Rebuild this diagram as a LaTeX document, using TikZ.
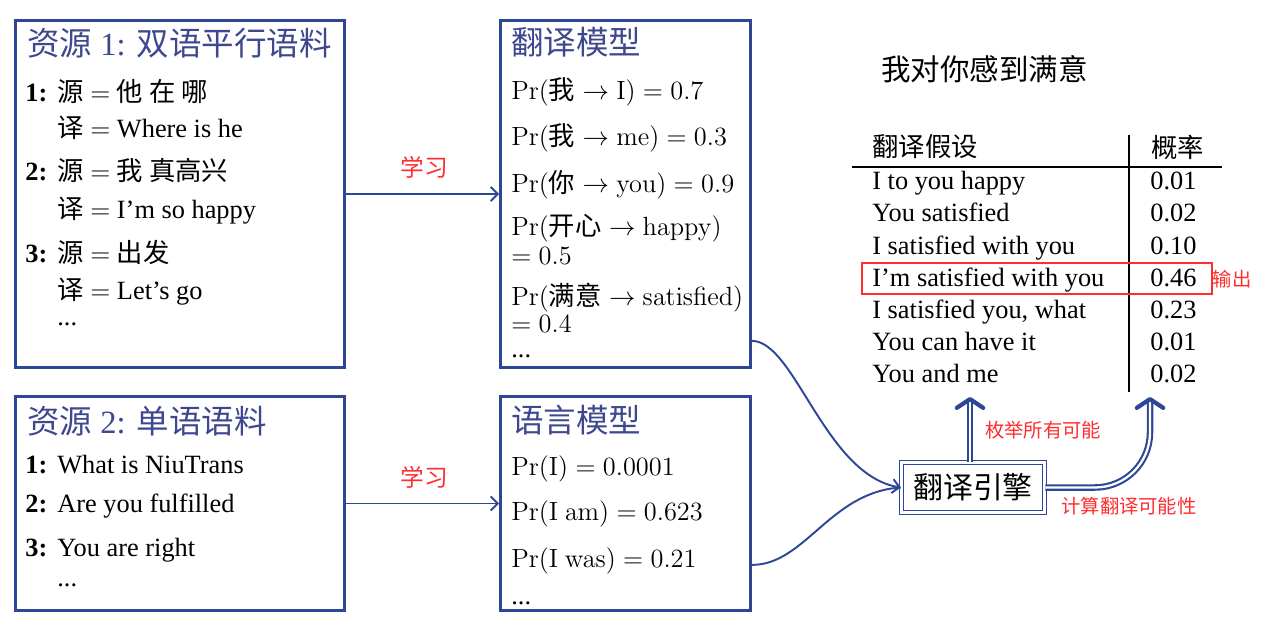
\RequirePackage{fix-cm}
\documentclass[tikz,border=0pt]{standalone}
\usepackage[no-math]{fontspec}
\setmainfont{Liberation Serif}
\newfontfamily\cjk{Noto Sans CJK SC}
\usetikzlibrary{arrows.meta,positioning}
\definecolor{boxblue}{RGB}{46,70,150}
\definecolor{headblue}{RGB}{62,72,142}
\definecolor{notered}{RGB}{255,45,45}
\newcommand{\zhtext}[1]{{\cjk #1}}
\newcommand{\idx}[1]{\makebox[0.64cm][l]{\bfseries #1}}
\tikzstyle{panel}=[draw=boxblue,line width=1.6pt,rectangle,inner sep=0pt]
\tikzstyle{head}=[anchor=base west,inner sep=0pt,text=headblue,font=\fontsize{18.5}{20}\selectfont]
\tikzstyle{entry}=[anchor=base west,inner sep=0pt,font=\fontsize{15}{17}\selectfont]
\tikzstyle{note}=[text=notered,inner sep=0pt,font=\fontsize{11}{12}\selectfont\cjk]
\tikzstyle{engine}=[draw=boxblue,line width=0.9pt,double=white,double distance=1.2pt,rectangle,
  minimum width=2.86cm,minimum height=1cm,inner sep=0pt,font=\fontsize{17}{18}\selectfont\cjk]

\begin{document}
\begin{tikzpicture}[x=0.02cm,y=-0.02cm,
flow/.style={draw=boxblue,line width=1.1pt,-{Straight Barb[length=4pt,width=8pt]}},
curveline/.style={draw=boxblue,line width=1.1pt},
dbl/.style={draw=boxblue,line width=1.2pt,double=white,double distance=1.3pt,
  -{Straight Barb[length=5pt,width=15pt,line width=2.4pt,round]}}]
\useasboundingbox (0,0) rectangle (1286,622);

\node [panel,minimum width=6.58cm,minimum height=6.94cm] (res1) at (180,194) {};
\node [panel,minimum width=5.0cm,minimum height=6.94cm] (tm) at (625.5,194) {};
\node [panel,minimum width=6.58cm,minimum height=4.28cm] (res2) at (180,503.5) {};
\node [panel,minimum width=5.0cm,minimum height=4.28cm] (lm) at (625.5,503.5) {};

\node [head] (h1) at (27,55) {\zhtext{资源} 1: \zhtext{双语平行语料}};
\node [entry] (p1a) at (25,101) {\idx{1:}\zhtext{源} $=$ \zhtext{他 在 哪}};
\node [entry] (p1b) at (57,137) {\zhtext{译} $=$ Where is he};
\node [entry] (p2a) at (25,180) {\idx{2:}\zhtext{源} $=$ \zhtext{我 真高兴}};
\node [entry] (p2b) at (57,218) {\zhtext{译} $=$ I’m so happy};
\node [entry] (p3a) at (25,262) {\idx{3:}\zhtext{源} $=$ \zhtext{出发}};
\node [entry] (p3b) at (57,299) {\zhtext{译} $=$ Let’s go};
\node [entry] (p3c) at (57,325) {...};

\node [head] (h2) at (511,54) {\zhtext{翻译模型}};
\node [entry] (t1) at (511,99) {$\mathrm{Pr}(\mbox{\cjk 我}\to\mathrm{I})=0.7$};
\node [entry] (t2) at (511,145) {$\mathrm{Pr}(\mbox{\cjk 我}\to\mathrm{me})=0.3$};
\node [entry] (t3) at (511,192) {$\mathrm{Pr}(\mbox{\cjk 你}\to\mathrm{you})=0.9$};
\node [entry] (t4) at (511,235) {$\mathrm{Pr}(\mbox{\cjk 开心}\to\mathrm{happy})$};
\node [entry] (t4b) at (511,264) {$=0.5$};
\node [entry] (t5) at (511,305) {$\mathrm{Pr}(\mbox{\cjk 满意}\to\mathrm{satisfied})$};
\node [entry] (t5b) at (511,332) {$=0.4$};
\node [entry] (t5c) at (511,357) {...};

\node [head] (h3) at (27,433) {\zhtext{资源} 2: \zhtext{单语语料}};
\node [entry] (m1) at (25,473) {\idx{1:}What is NiuTrans};
\node [entry] (m2) at (25,512) {\idx{2:}Are you fulfilled};
\node [entry] (m3) at (25,556) {\idx{3:}You are right};
\node [entry] (m4) at (57,586) {...};

\node [head] (h4) at (511,432) {\zhtext{语言模型}};
\node [entry] (l1) at (511,475) {$\mathrm{Pr}(\mathrm{I})=0.0001$};
\node [entry] (l2) at (511,520) {$\mathrm{Pr}(\mathrm{I\ am})=0.623$};
\node [entry] (l3) at (511,567) {$\mathrm{Pr}(\mathrm{I\ was})=0.21$};
\node [entry] (l4) at (511,604) {...};

\draw [flow] (res1.east) -- (tm.west);
\draw [flow] (res2.east) -- (lm.west);
\node [note,font=\fontsize{13.5}{14}\selectfont\cjk] (learn1) at (424,167) {学习};
\node [note,font=\fontsize{13.5}{14}\selectfont\cjk] (learn2) at (424,477) {学习};

\node [anchor=west,inner sep=0pt,font=\fontsize{16.8}{18}\selectfont\cjk] (sent) at (881,69) {我对你感到满意};
\node [anchor=west,inner sep=0pt,font=\fontsize{15}{16}\selectfont\cjk] (hyp) at (872,147) {翻译假设};
\node [anchor=west,inner sep=0pt,font=\fontsize{15}{16}\selectfont\cjk] (prob) at (1151,147) {概率};
\draw [line width=0.8pt] (852,167) -- (1222,167);
\draw [line width=0.8pt] (1129,135) -- (1129,392);

\node [entry] (r1a) at (872,189) {I to you happy};
\node [entry] (r1b) at (1150,189) {0.01};
\node [entry] (r2a) at (872,221) {You satisfied};
\node [entry] (r2b) at (1150,221) {0.02};
\node [entry] (r3a) at (872,254) {I satisfied with you};
\node [entry] (r3b) at (1150,254) {0.10};
\node [entry] (r4a) at (872,286) {I’m satisfied with you};
\node [entry] (r4b) at (1150,286) {0.46};
\node [entry] (r5a) at (872,318) {I satisfied you, what};
\node [entry] (r5b) at (1150,318) {0.23};
\node [entry] (r6a) at (872,350) {You can have it};
\node [entry] (r6b) at (1150,350) {0.01};
\node [entry] (r7a) at (872,382) {You and me};
\node [entry] (r7b) at (1150,382) {0.02};
\draw [draw=notered,line width=1.1pt] (862,263) rectangle (1212,294);
\node [note] (out) at (1232,279) {输出};

\node [engine] (eng) at (973,487.5) {翻译引擎};
\draw [curveline,-{Straight Barb[length=4pt,width=8pt]}] ([yshift=0.56cm]tm.south east) .. controls (795,341) and (825,475) .. (eng.west);
\draw [curveline] ([yshift=0.94cm]lm.south east) .. controls (805,565) and (830,492) .. (eng.west);

\coordinate (enum) at (970,397);
\coordinate (score) at (1150,397);
\draw [dbl] (eng.north -| enum) -- (enum);
\draw [dbl,rounded corners=1.1cm] (eng.east) -| (score);
\node [note] (enumlbl) at (1043,430) {枚举所有可能};
\node [note] (scorelbl) at (1129,506) {计算翻译可能性};
\end{tikzpicture}
\end{document}
